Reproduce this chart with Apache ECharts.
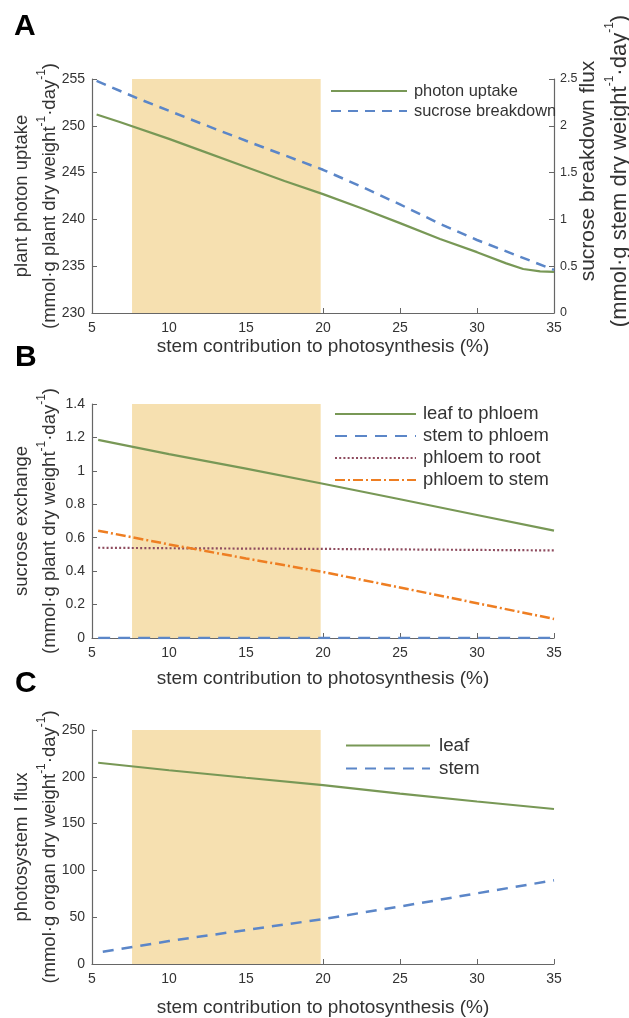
<!DOCTYPE html>
<html><head><meta charset="utf-8">
<script src="https://cdn.jsdelivr.net/npm/echarts@6/dist/echarts.min.js"></script>
<style>html,body{margin:0;padding:0;background:#fff}#c{width:629px;height:1018px}</style>
</head><body><div id="c"></div>
<script>
// ---------- data ----------
const xTicks = [5, 10, 15, 20, 25, 30, 35];
const shadeRange = [7.6, 19.85];
// Panel A
const xPhoton = [5.3, 6.8, 10, 12, 15, 17.5, 20, 22.5, 25, 27.6, 30, 31.9, 33, 34.1, 35];
const photonUptake = [251.2, 250.4, 248.6, 247.4, 245.6, 244.1, 242.7, 241.2, 239.6, 237.9, 236.5, 235.3, 234.7, 234.45, 234.4];
const xSucrose = [5.3, 8, 10, 12, 15, 20, 22.5, 25, 27.5, 30, 32.5, 33.6, 35];
const sucroseBreakdown = [2.48, 2.29, 2.16, 2.03, 1.84, 1.53, 1.35, 1.16, 0.96, 0.78, 0.62, 0.55, 0.46];
const yTicksA = [230, 255, 5];
const yTicksA2 = [0, 2.5, 0.5];
// Panel B
const xB = [5.4, 10, 15, 20, 25, 30, 35];
const leafToPhloem = [1.185, 1.10, 1.013, 0.923, 0.830, 0.736, 0.642];
const stemToPhloem = [0, 0, 0, 0, 0, 0, 0];
const phloemToRoot = [0.54, 0.537, 0.535, 0.533, 0.53, 0.527, 0.524];
const phloemToStem = [0.642, 0.560, 0.476, 0.395, 0.302, 0.208, 0.114];
const yTicksB = [0, 1.4, 0.2];
// Panel C
const xCLeaf = [5.4, 10, 15, 20, 25, 30, 35];
const leafPSI = [215, 207, 199, 191.2, 182, 173.6, 165.6];
const xCStem = [5.7, 10, 15, 20, 25, 30, 35];
const stemPSI = [13.2, 24.5, 36.3, 48, 61.4, 75.5, 89.4];
const yTicksC = [0, 250, 50];

// ---------- style ----------
const FONT = '"Liberation Sans", Arial, sans-serif';
const AXIS = '#666666';
const TXT = '#333333';
const GREEN = '#789856';
const BLUE = '#5b86c8';
const DOT = '#8e4b5e';
const ORANGE = '#ee7e22';
const SHADE = '#f6e0b0';

const zip = (xs, ys) => xs.map((x, i) => [x, ys[i]]);

function xAx(gi, gap) {
  return {
    type: 'value', gridIndex: gi, min: xTicks[0], max: xTicks[xTicks.length - 1], interval: 5,
    axisLine: { show: true, onZero: false, lineStyle: { color: AXIS, width: 1.2 } },
    axisTick: { show: true, inside: true, length: 5, lineStyle: { color: AXIS } },
    axisLabel: { color: TXT, fontSize: 14, margin: 8, fontFamily: FONT },
    splitLine: { show: false },
    name: 'stem contribution to photosynthesis (%)', nameLocation: 'middle', nameGap: gap,
    nameMoveOverlap: false,
    nameTextStyle: { fontSize: 19, color: TXT, fontFamily: FONT }
  };
}
function richName(fs, lh, fs1) {
  return {
    fontSize: fs, lineHeight: lh, color: TXT, fontFamily: FONT,
    rich: {
      a: { fontSize: fs, lineHeight: lh, color: TXT, fontFamily: FONT },
      b: { fontSize: fs1 || fs, lineHeight: lh, color: TXT, fontFamily: FONT },
      s: { fontSize: 12, lineHeight: 16, verticalAlign: 'top', color: TXT, fontFamily: FONT }
    }
  };
}
function yAx(gi, t, name, gap, pos, fs, lh, labelFs, fs1) {
  return {
    type: 'value', gridIndex: gi, min: t[0], max: t[1], interval: t[2], position: pos || 'left',
    axisLine: { show: true, onZero: false, lineStyle: { color: AXIS, width: 1.2 } },
    axisTick: { show: true, inside: true, length: 5, lineStyle: { color: AXIS } },
    axisLabel: { color: TXT, fontSize: labelFs || 14, margin: 7, fontFamily: FONT },
    splitLine: { show: false },
    name: name, nameLocation: 'middle', nameGap: gap, nameRotate: 90,
    nameMoveOverlap: false,
    nameTextStyle: richName(fs || 18.5, lh || 28, fs1)
  };
}
const unitLine = (organ) => '{a|(mmol·g ' + organ + ' dry weight}{s|-1}{a|·day}{s|-1}{a|)}';

const yRight = yAx(0, yTicksA2, '{b|sucrose breakdown flux}\n' + unitLine('stem'), 18, 'right', 22, 32, 12.5, 21);
yRight.axisLabel.margin = 6;
yRight.nameTextStyle.padding = [0, 0, 0, 50];

function line(name, xi, yi, data, color, type, width, z) {
  return {
    name, type: 'line', xAxisIndex: xi, yAxisIndex: yi, data, symbol: 'none', smooth: false,
    lineStyle: { color, type, width, cap: 'butt' }, itemStyle: { color }, z: z || 3, silent: true
  };
}
function shade(xi, yi) {
  return {
    type: 'line', xAxisIndex: xi, yAxisIndex: yi, data: [], z: 1, silent: true,
    markArea: { silent: true, itemStyle: { color: SHADE }, data: [[{ xAxis: shadeRange[0] }, { xAxis: shadeRange[1] }]] }
  };
}
function legend(names, left, top, w, fs, lh, pad) {
  return {
    data: names, orient: 'vertical', left, top,
    itemWidth: w, itemHeight: 14, itemGap: 0, selectedMode: false,
    itemStyle: { opacity: 0, borderWidth: 0 },
    textStyle: { fontSize: fs, lineHeight: lh, color: TXT, fontFamily: FONT, padding: [0, 0, 0, pad] }
  };
}
const gridBox = (top) => ({ left: 92, right: 75, top, height: 234, containLabel: false, outerBoundsMode: 'none' });

const option = {
  animation: false,
  backgroundColor: '#ffffff',
  textStyle: { fontFamily: FONT },
  grid: [gridBox(79), gridBox(404), gridBox(730)],
  xAxis: [xAx(0, 24), xAx(1, 31), xAx(2, 34)],
  yAxis: [
    yAx(0, yTicksA, '{a|plant photon uptake}\n' + unitLine('plant'), 28),
    yRight,
    yAx(1, yTicksB, '{a|sucrose exchange}\n' + unitLine('plant'), 28),
    yAx(2, yTicksC, '{a|photosystem I flux}\n' + unitLine('organ'), 28)
  ],
  legend: [
    legend(['photon uptake', 'sucrose breakdown'], 325, 76, 76, 16.4, 20, 2),
    legend(['leaf to phloem', 'stem to phloem', 'phloem to root', 'phloem to stem'], 329, 398, 81, 18.4, 22, 2),
    legend(['leaf', 'stem'], 340, 729, 84, 18.8, 23, 4)
  ],
  graphic: [
    { type: 'text', left: 14, top: 12, style: { text: 'A', font: 'bold 30px "Liberation Sans", Arial', fill: '#000' } },
    { type: 'text', left: 15, top: 343, style: { text: 'B', font: 'bold 30px "Liberation Sans", Arial', fill: '#000' } },
    { type: 'text', left: 15, top: 669, style: { text: 'C', font: 'bold 30px "Liberation Sans", Arial', fill: '#000' } }
  ],
  series: [
    shade(0, 0), shade(1, 2), shade(2, 3),
    line('photon uptake', 0, 0, zip(xPhoton, photonUptake), GREEN, 'solid', 2.2),
    line('sucrose breakdown', 0, 1, zip(xSucrose, sucroseBreakdown), BLUE, [10, 7], 2.5),
    line('leaf to phloem', 1, 2, zip(xB, leafToPhloem), GREEN, 'solid', 2.2),
    line('stem to phloem', 1, 2, zip(xB, stemToPhloem), BLUE, [12, 8], 2.5),
    line('phloem to root', 1, 2, zip(xB, phloemToRoot), DOT, [2, 2.2], 2.2),
    line('phloem to stem', 1, 2, zip(xB, phloemToStem), ORANGE, [10, 3, 2, 3], 2.5),
    line('leaf', 2, 3, zip(xCLeaf, leafPSI), GREEN, 'solid', 2.2),
    line('stem', 2, 3, zip(xCStem, stemPSI), BLUE, [11, 8], 2.5)
  ]
};
const chart = echarts.init(document.getElementById('c'), null, { renderer: 'canvas' });
chart.setOption(option);
</script>
</body></html>
